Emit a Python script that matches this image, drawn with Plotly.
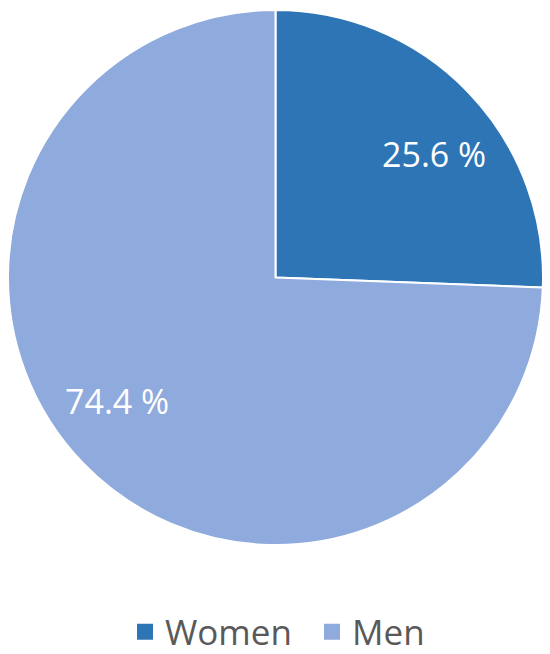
import math
import plotly.graph_objects as go

# Share of women and men
labels = ["Women", "Men"]
shares = [25.6, 74.4]
colors = ["#2E75B6", "#8FAADC"]

W, H = 550, 654
OFF = 8  # browser body margin shifts the plot by 8px

# pie box in page pixels (from the reference), converted to figure pixels
left, right, top, bottom = 8 - OFF, 543 - OFF, 10 - OFF, 545 - OFF
cx, cy = (left + right) / 2, (top + bottom) / 2
r = (right - left) / 2

fig = go.Figure()
fig.add_trace(go.Pie(
    labels=labels,
    values=shares,
    sort=False,
    direction="clockwise",
    rotation=0,
    marker=dict(colors=colors, line=dict(color="white", width=2)),
    textinfo="none",
    hoverinfo="label+percent",
    showlegend=False,
    domain=dict(x=[left / W, right / W], y=[1 - bottom / H, 1 - top / H]),
))

# legend entries with bigger square symbols
for name, col in zip(labels, colors):
    fig.add_trace(go.Scatter(
        x=[None], y=[None], mode="markers", name=name,
        marker=dict(symbol="square", size=20, color=col),
    ))

fig.update_layout(
    width=W,
    height=H,
    margin=dict(l=0, r=0, t=0, b=0),
    paper_bgcolor="white",
    plot_bgcolor="white",
    xaxis=dict(visible=False),
    yaxis=dict(visible=False),
    showlegend=True,
    legend=dict(
        orientation="h",
        x=0.5 + 29 / W,
        xanchor="center",
        y=(H - (632 - OFF)) / H,
        yanchor="middle",
        entrywidth=142,
        font=dict(size=35, color="#595959", family="Open Sans"),
        itemsizing="trace",
    ),
)

# value labels inside the slices, placed along each slice's middle angle
total = sum(shares)
start = 90.0
for v in shares:
    sweep = v / total * 360
    mid = math.radians(start - sweep / 2 - 6)
    start -= sweep
    fig.add_annotation(
        x=(cx + 0.75 * r * math.cos(mid)) / W,
        y=1 - (cy - 0.75 * r * math.sin(mid)) / H,
        xref="paper", yref="paper",
        xanchor="center", yanchor="middle",
        text=f"{v:.1f} %",
        showarrow=False,
        font=dict(color="white", size=34, family="Open Sans"),
    )

fig.write_html("out.html")
